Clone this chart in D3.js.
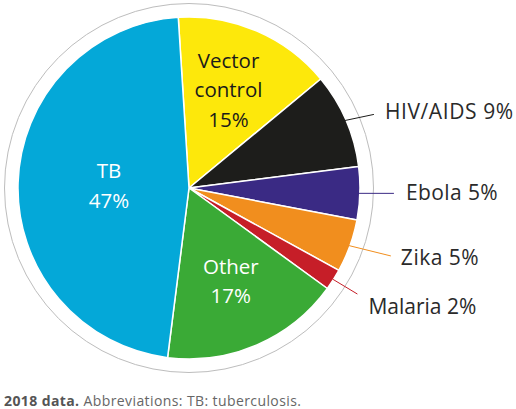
<!DOCTYPE html>
<html>
<head>
<meta charset="utf-8">
<script src="https://cdn.jsdelivr.net/npm/d3@7"></script>
<style>
  body { margin: 0; background: #fff; }
  svg { display: block; font-family: "Open Sans", Roboto, sans-serif; }
</style>
</head>
<body>
<script>
// Chart data
const categories = ["Vector control", "HIV/AIDS", "Ebola", "Zika", "Malaria", "Other", "TB"];
const shares = [15, 9, 5, 5, 2, 17, 47];
const colors = ["#fde80b", "#1d1d1b", "#3a2a84", "#f18e1e", "#c61e28", "#3aaa36", "#04a8d8"];
const insideLabels = { "Vector control": ["Vector", "control", "15%"], "TB": ["TB", "47%"], "Other": ["Other", "17%"] };
const outsideLabels = { "HIV/AIDS": "HIV/AIDS 9%", "Ebola": "Ebola 5%", "Zika": "Zika 5%", "Malaria": "Malaria 2%" };

const width = 516;
const height = 409;
const cx = 189, cy = 188;
const radius = 171;
const ringRadius = 184.5;
const deg = Math.PI / 180;

// label layout tweaks (radius of label centre / leader end, angle nudge, text offset)
const insideLayout = { "Vector control": { r: 106, da: -1.5, color: "#1a1a1a" }, "TB": { r: 80, da: 0, color: "#fff" }, "Other": { r: 102, da: -0.8, color: "#fff" } };
const outsideLayout = {
  "HIV/AIDS": { r: 199, da: 1.7, dx: 11, dy: -3, ls: 0.6 },
  "Ebola": { r: 205, da: -0.3, dx: 12, dy: -1, ls: 0.4 },
  "Zika": { r: 213, da: -1.2, dx: 10, dy: 1.5, ls: 0.5 },
  "Malaria": { r: 199, da: -0.2, dx: 11, dy: 12, ls: 0 }
};

const svg = d3.select("body").append("svg")
    .attr("width", width)
    .attr("height", height)
    .attr("viewBox", [0, 0, width, height]);

const g = svg.append("g").attr("transform", `translate(${cx},${cy})`);

const pie = d3.pie()
    .sort(null)
    .value(d => d.value)
    .startAngle(-3.6 * deg)
    .endAngle(-3.6 * deg + 2 * Math.PI);

const arcs = pie(categories.map((c, i) => ({ name: c, value: shares[i], color: colors[i] })));
const arc = d3.arc().innerRadius(0).outerRadius(radius);

const polar = (a, r) => [Math.sin(a) * r, -Math.cos(a) * r];
const mid = d => (d.startAngle + d.endAngle) / 2;

// outer thin ring
g.append("circle")
    .attr("r", ringRadius)
    .attr("fill", "none")
    .attr("stroke", "#bdbdbd")
    .attr("stroke-width", 1);

// slices
g.selectAll("path.slice")
    .data(arcs)
    .enter().append("path")
    .attr("class", "slice")
    .attr("d", arc)
    .attr("fill", d => d.data.color)
    .attr("stroke", "#fff")
    .attr("stroke-width", 1.5)
    .attr("stroke-linejoin", "round");

// labels inside the big slices
const lineGap = 29.5;
arcs.filter(d => insideLabels[d.data.name]).forEach(d => {
    const lay = insideLayout[d.data.name];
    const [x, y] = polar(mid(d) + lay.da * deg, lay.r);
    const lines = insideLabels[d.data.name];
    const t = g.append("text")
        .attr("text-anchor", "middle")
        .attr("fill", lay.color)
        .attr("font-size", 20.5)
        .attr("font-weight", 400);
    lines.forEach((line, i) => {
        t.append("tspan")
            .attr("x", x)
            .attr("y", y + (i - (lines.length - 1) / 2) * lineGap + 7.4)
            .text(line);
    });
});

// leader lines and outside labels
arcs.filter(d => outsideLabels[d.data.name]).forEach(d => {
    const lay = outsideLayout[d.data.name];
    const [x0, y0] = polar(mid(d), radius - 1);
    const [x1, y1] = polar(mid(d) + lay.da * deg, lay.r);
    g.append("line")
        .attr("x1", x0).attr("y1", y0)
        .attr("x2", x1).attr("y2", y1)
        .attr("stroke", d.data.color)
        .attr("stroke-width", 1);
    g.append("text")
        .attr("x", x1 + lay.dx)
        .attr("y", y1 + lay.dy + 7.5)
        .attr("fill", "#2a2a2a")
        .attr("font-size", 21)
        .attr("font-weight", 400)
        .attr("letter-spacing", lay.ls)
        .text(outsideLabels[d.data.name]);
});

// footnote
const note = svg.append("text")
    .attr("x", 4)
    .attr("y", 406)
    .attr("font-size", 14)
    .attr("letter-spacing", 0.4)
    .attr("fill", "#666");
note.append("tspan").attr("font-weight", 700).attr("fill", "#555").text("2018 data.");
note.append("tspan").text(" Abbreviations: TB: tuberculosis.");
</script>
</body>
</html>
